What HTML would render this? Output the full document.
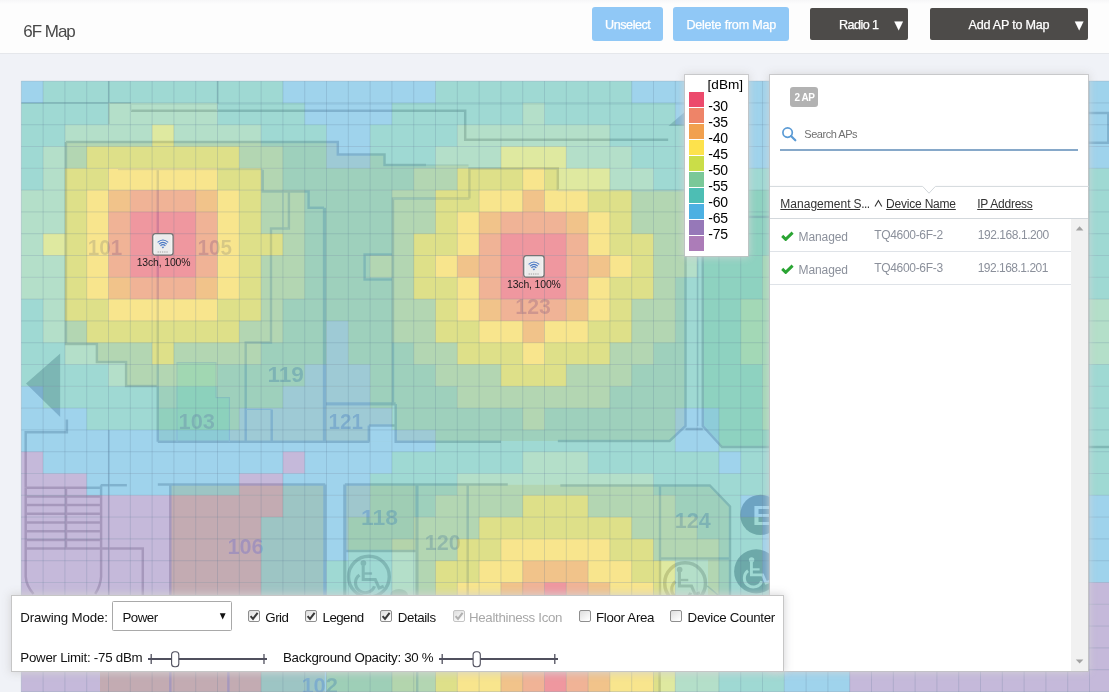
<!DOCTYPE html>
<html lang="en">
<head>
<meta charset="utf-8">
<title>6F Map</title>
<style>
*{box-sizing:border-box;}
html,body{margin:0;padding:0;}
body{width:1109px;height:692px;overflow:hidden;background:#f0f2f7;font-family:"Liberation Sans",sans-serif;position:relative;color:#333;}
.a{position:absolute;display:block;}
.t{position:absolute;display:block;white-space:nowrap;}
#hdr{position:absolute;left:0;top:0;width:1109px;height:54px;background:linear-gradient(to bottom,#f7f7f8 0,#fdfdfd 4px);border-bottom:1px solid #e5e7eb;}
.btn{position:absolute;}
.btn.lb{background:#90c8f6;top:7.2px;height:33.4px;border-radius:3px;}
.btn.dk{background:#4d4b49;top:8px;height:31.5px;border-radius:2px;}
#map{position:absolute;left:0;top:0;width:1109px;height:692px;}
#legend{position:absolute;left:685.4px;top:74.5px;width:63px;height:181.1px;background:#fff;box-shadow:0 0 0 0.9px rgba(192,192,194,0.85),0 0 8px 1px rgba(212,212,214,0.9);}
#panel{position:absolute;left:769.6px;top:74.5px;width:318.7px;height:596.5px;background:#fff;box-shadow:0 0 0 0.9px rgba(192,192,194,0.85),0 0 8px 1px rgba(212,212,214,0.9);}
#tool{position:absolute;left:11.2px;top:595.2px;width:772.6px;height:76.4px;background:#fff;border:1px solid #c6c6c6;box-shadow:0 0 8px 1px rgba(212,212,214,0.9);}
</style>
</head>
<body>
<svg id="map" width="1109" height="692" viewBox="0 0 1109 692">
<defs><filter id="soft" color-interpolation-filters="sRGB" x="0" y="0" width="1109" height="692" filterUnits="userSpaceOnUse"><feGaussianBlur stdDeviation="0.45"/></filter></defs>
<g>
<rect x="21.3" y="81.1" width="22.1" height="22.1" fill="#9fd3ec"/>
<rect x="43.1" y="81.1" width="240.1" height="22.1" fill="#9fd9d3"/>
<rect x="282.9" y="81.1" width="152.9" height="22.1" fill="#9fd3ec"/>
<rect x="435.5" y="81.1" width="196.5" height="22.1" fill="#9fd9d3"/>
<rect x="631.7" y="81.1" width="479.9" height="22.1" fill="#9fd3ec"/>
<rect x="21.3" y="102.9" width="87.5" height="22.1" fill="#9fd9d3"/>
<rect x="108.5" y="102.9" width="109.3" height="22.1" fill="#b4dfc9"/>
<rect x="217.5" y="102.9" width="87.5" height="22.1" fill="#9fd9d3"/>
<rect x="304.7" y="102.9" width="87.5" height="22.1" fill="#9fd3ec"/>
<rect x="391.9" y="102.9" width="131.1" height="22.1" fill="#9fd9d3"/>
<rect x="522.7" y="102.9" width="22.1" height="22.1" fill="#b4dfc9"/>
<rect x="544.5" y="102.9" width="131.1" height="22.1" fill="#9fd9d3"/>
<rect x="675.3" y="102.9" width="436.3" height="22.1" fill="#9fd3ec"/>
<rect x="21.3" y="124.7" width="43.9" height="22.1" fill="#9fd9d3"/>
<rect x="64.9" y="124.7" width="87.5" height="22.1" fill="#b4dfc9"/>
<rect x="152.1" y="124.7" width="22.1" height="22.1" fill="#dfe9a0"/>
<rect x="173.9" y="124.7" width="87.5" height="22.1" fill="#b4dfc9"/>
<rect x="261.1" y="124.7" width="65.7" height="22.1" fill="#9fd9d3"/>
<rect x="326.5" y="124.7" width="43.9" height="22.1" fill="#9fd3ec"/>
<rect x="370.1" y="124.7" width="87.5" height="22.1" fill="#9fd9d3"/>
<rect x="457.3" y="124.7" width="152.9" height="22.1" fill="#b4dfc9"/>
<rect x="609.9" y="124.7" width="109.3" height="22.1" fill="#9fd9d3"/>
<rect x="718.9" y="124.7" width="392.7" height="22.1" fill="#9fd3ec"/>
<rect x="21.3" y="146.5" width="22.1" height="22.1" fill="#9fd9d3"/>
<rect x="43.1" y="146.5" width="43.9" height="22.1" fill="#b4dfc9"/>
<rect x="86.7" y="146.5" width="152.9" height="22.1" fill="#dfe9a0"/>
<rect x="239.3" y="146.5" width="43.9" height="22.1" fill="#b4dfc9"/>
<rect x="282.9" y="146.5" width="43.9" height="22.1" fill="#9fd9d3"/>
<rect x="326.5" y="146.5" width="43.9" height="22.1" fill="#9fd3ec"/>
<rect x="370.1" y="146.5" width="65.7" height="22.1" fill="#9fd9d3"/>
<rect x="435.5" y="146.5" width="65.7" height="22.1" fill="#b4dfc9"/>
<rect x="500.9" y="146.5" width="65.7" height="22.1" fill="#dfe9a0"/>
<rect x="566.3" y="146.5" width="65.7" height="22.1" fill="#b4dfc9"/>
<rect x="631.7" y="146.5" width="109.3" height="22.1" fill="#9fd9d3"/>
<rect x="740.7" y="146.5" width="370.9" height="22.1" fill="#9fd3ec"/>
<rect x="21.3" y="168.3" width="22.1" height="22.1" fill="#9fd9d3"/>
<rect x="43.1" y="168.3" width="22.1" height="22.1" fill="#b4dfc9"/>
<rect x="64.9" y="168.3" width="43.9" height="22.1" fill="#dfe9a0"/>
<rect x="108.5" y="168.3" width="109.3" height="22.1" fill="#f9eea4"/>
<rect x="217.5" y="168.3" width="43.9" height="22.1" fill="#dfe9a0"/>
<rect x="261.1" y="168.3" width="22.1" height="22.1" fill="#b4dfc9"/>
<rect x="282.9" y="168.3" width="131.1" height="22.1" fill="#9fd9d3"/>
<rect x="413.7" y="168.3" width="43.9" height="22.1" fill="#b4dfc9"/>
<rect x="457.3" y="168.3" width="65.7" height="22.1" fill="#dfe9a0"/>
<rect x="522.7" y="168.3" width="22.1" height="22.1" fill="#f9eea4"/>
<rect x="544.5" y="168.3" width="65.7" height="22.1" fill="#dfe9a0"/>
<rect x="609.9" y="168.3" width="43.9" height="22.1" fill="#b4dfc9"/>
<rect x="653.5" y="168.3" width="458.1" height="22.1" fill="#9fd9d3"/>
<rect x="21.3" y="190.1" width="43.9" height="22.1" fill="#b4dfc9"/>
<rect x="64.9" y="190.1" width="22.1" height="22.1" fill="#dfe9a0"/>
<rect x="86.7" y="190.1" width="22.1" height="22.1" fill="#f9eea4"/>
<rect x="108.5" y="190.1" width="22.1" height="22.1" fill="#f2cca1"/>
<rect x="130.3" y="190.1" width="65.7" height="22.1" fill="#f1bcad"/>
<rect x="195.7" y="190.1" width="22.1" height="22.1" fill="#f2cca1"/>
<rect x="217.5" y="190.1" width="22.1" height="22.1" fill="#f9eea4"/>
<rect x="239.3" y="190.1" width="22.1" height="22.1" fill="#dfe9a0"/>
<rect x="261.1" y="190.1" width="43.9" height="22.1" fill="#b4dfc9"/>
<rect x="304.7" y="190.1" width="87.5" height="22.1" fill="#9fd9d3"/>
<rect x="391.9" y="190.1" width="43.9" height="22.1" fill="#b4dfc9"/>
<rect x="435.5" y="190.1" width="43.9" height="22.1" fill="#dfe9a0"/>
<rect x="479.1" y="190.1" width="43.9" height="22.1" fill="#f9eea4"/>
<rect x="522.7" y="190.1" width="22.1" height="22.1" fill="#f2cca1"/>
<rect x="544.5" y="190.1" width="43.9" height="22.1" fill="#f9eea4"/>
<rect x="588.1" y="190.1" width="43.9" height="22.1" fill="#dfe9a0"/>
<rect x="631.7" y="190.1" width="65.7" height="22.1" fill="#b4dfc9"/>
<rect x="697.1" y="190.1" width="414.5" height="22.1" fill="#9fd9d3"/>
<rect x="21.3" y="211.9" width="43.9" height="22.1" fill="#b4dfc9"/>
<rect x="64.9" y="211.9" width="22.1" height="22.1" fill="#dfe9a0"/>
<rect x="86.7" y="211.9" width="22.1" height="22.1" fill="#f9eea4"/>
<rect x="108.5" y="211.9" width="22.1" height="22.1" fill="#f1bcad"/>
<rect x="130.3" y="211.9" width="65.7" height="22.1" fill="#f0a0b6"/>
<rect x="195.7" y="211.9" width="22.1" height="22.1" fill="#f1bcad"/>
<rect x="217.5" y="211.9" width="22.1" height="22.1" fill="#f9eea4"/>
<rect x="239.3" y="211.9" width="22.1" height="22.1" fill="#dfe9a0"/>
<rect x="261.1" y="211.9" width="43.9" height="22.1" fill="#b4dfc9"/>
<rect x="304.7" y="211.9" width="87.5" height="22.1" fill="#9fd9d3"/>
<rect x="391.9" y="211.9" width="43.9" height="22.1" fill="#b4dfc9"/>
<rect x="435.5" y="211.9" width="22.1" height="22.1" fill="#dfe9a0"/>
<rect x="457.3" y="211.9" width="22.1" height="22.1" fill="#f9eea4"/>
<rect x="479.1" y="211.9" width="22.1" height="22.1" fill="#f2cca1"/>
<rect x="500.9" y="211.9" width="65.7" height="22.1" fill="#f1bcad"/>
<rect x="566.3" y="211.9" width="22.1" height="22.1" fill="#f2cca1"/>
<rect x="588.1" y="211.9" width="22.1" height="22.1" fill="#f9eea4"/>
<rect x="609.9" y="211.9" width="22.1" height="22.1" fill="#dfe9a0"/>
<rect x="631.7" y="211.9" width="65.7" height="22.1" fill="#b4dfc9"/>
<rect x="697.1" y="211.9" width="414.5" height="22.1" fill="#9fd9d3"/>
<rect x="21.3" y="233.7" width="22.1" height="22.1" fill="#b4dfc9"/>
<rect x="43.1" y="233.7" width="43.9" height="22.1" fill="#dfe9a0"/>
<rect x="86.7" y="233.7" width="22.1" height="22.1" fill="#f9eea4"/>
<rect x="108.5" y="233.7" width="22.1" height="22.1" fill="#f1bcad"/>
<rect x="130.3" y="233.7" width="65.7" height="22.1" fill="#f0a0b6"/>
<rect x="195.7" y="233.7" width="22.1" height="22.1" fill="#f1bcad"/>
<rect x="217.5" y="233.7" width="22.1" height="22.1" fill="#f9eea4"/>
<rect x="239.3" y="233.7" width="43.9" height="22.1" fill="#dfe9a0"/>
<rect x="282.9" y="233.7" width="22.1" height="22.1" fill="#b4dfc9"/>
<rect x="304.7" y="233.7" width="87.5" height="22.1" fill="#9fd9d3"/>
<rect x="391.9" y="233.7" width="22.1" height="22.1" fill="#b4dfc9"/>
<rect x="413.7" y="233.7" width="43.9" height="22.1" fill="#dfe9a0"/>
<rect x="457.3" y="233.7" width="22.1" height="22.1" fill="#f9eea4"/>
<rect x="479.1" y="233.7" width="22.1" height="22.1" fill="#f1bcad"/>
<rect x="500.9" y="233.7" width="65.7" height="22.1" fill="#f0a0b6"/>
<rect x="566.3" y="233.7" width="22.1" height="22.1" fill="#f1bcad"/>
<rect x="588.1" y="233.7" width="22.1" height="22.1" fill="#f9eea4"/>
<rect x="609.9" y="233.7" width="43.9" height="22.1" fill="#dfe9a0"/>
<rect x="653.5" y="233.7" width="43.9" height="22.1" fill="#b4dfc9"/>
<rect x="697.1" y="233.7" width="414.5" height="22.1" fill="#9fd9d3"/>
<rect x="21.3" y="255.5" width="43.9" height="22.1" fill="#b4dfc9"/>
<rect x="64.9" y="255.5" width="22.1" height="22.1" fill="#dfe9a0"/>
<rect x="86.7" y="255.5" width="22.1" height="22.1" fill="#f9eea4"/>
<rect x="108.5" y="255.5" width="22.1" height="22.1" fill="#f1bcad"/>
<rect x="130.3" y="255.5" width="65.7" height="22.1" fill="#f0a0b6"/>
<rect x="195.7" y="255.5" width="22.1" height="22.1" fill="#f1bcad"/>
<rect x="217.5" y="255.5" width="22.1" height="22.1" fill="#f9eea4"/>
<rect x="239.3" y="255.5" width="22.1" height="22.1" fill="#dfe9a0"/>
<rect x="261.1" y="255.5" width="43.9" height="22.1" fill="#b4dfc9"/>
<rect x="304.7" y="255.5" width="65.7" height="22.1" fill="#9fd9d3"/>
<rect x="370.1" y="255.5" width="43.9" height="22.1" fill="#b4dfc9"/>
<rect x="413.7" y="255.5" width="22.1" height="22.1" fill="#dfe9a0"/>
<rect x="435.5" y="255.5" width="22.1" height="22.1" fill="#f9eea4"/>
<rect x="457.3" y="255.5" width="22.1" height="22.1" fill="#f2cca1"/>
<rect x="479.1" y="255.5" width="22.1" height="22.1" fill="#f1bcad"/>
<rect x="500.9" y="255.5" width="65.7" height="22.1" fill="#f0a0b6"/>
<rect x="566.3" y="255.5" width="22.1" height="22.1" fill="#f1bcad"/>
<rect x="588.1" y="255.5" width="22.1" height="22.1" fill="#f2cca1"/>
<rect x="609.9" y="255.5" width="22.1" height="22.1" fill="#f9eea4"/>
<rect x="631.7" y="255.5" width="22.1" height="22.1" fill="#dfe9a0"/>
<rect x="653.5" y="255.5" width="43.9" height="22.1" fill="#b4dfc9"/>
<rect x="697.1" y="255.5" width="65.7" height="22.1" fill="#9fd9d3"/>
<rect x="762.5" y="255.5" width="109.3" height="22.1" fill="#b4dfc9"/>
<rect x="871.5" y="255.5" width="240.1" height="22.1" fill="#9fd9d3"/>
<rect x="21.3" y="277.3" width="43.9" height="22.1" fill="#b4dfc9"/>
<rect x="64.9" y="277.3" width="22.1" height="22.1" fill="#dfe9a0"/>
<rect x="86.7" y="277.3" width="22.1" height="22.1" fill="#f9eea4"/>
<rect x="108.5" y="277.3" width="22.1" height="22.1" fill="#f2cca1"/>
<rect x="130.3" y="277.3" width="65.7" height="22.1" fill="#f1bcad"/>
<rect x="195.7" y="277.3" width="22.1" height="22.1" fill="#f2cca1"/>
<rect x="217.5" y="277.3" width="22.1" height="22.1" fill="#f9eea4"/>
<rect x="239.3" y="277.3" width="22.1" height="22.1" fill="#dfe9a0"/>
<rect x="261.1" y="277.3" width="43.9" height="22.1" fill="#b4dfc9"/>
<rect x="304.7" y="277.3" width="87.5" height="22.1" fill="#9fd9d3"/>
<rect x="391.9" y="277.3" width="22.1" height="22.1" fill="#b4dfc9"/>
<rect x="413.7" y="277.3" width="43.9" height="22.1" fill="#dfe9a0"/>
<rect x="457.3" y="277.3" width="22.1" height="22.1" fill="#f9eea4"/>
<rect x="479.1" y="277.3" width="22.1" height="22.1" fill="#f1bcad"/>
<rect x="500.9" y="277.3" width="65.7" height="22.1" fill="#f0a0b6"/>
<rect x="566.3" y="277.3" width="22.1" height="22.1" fill="#f1bcad"/>
<rect x="588.1" y="277.3" width="22.1" height="22.1" fill="#f9eea4"/>
<rect x="609.9" y="277.3" width="43.9" height="22.1" fill="#dfe9a0"/>
<rect x="653.5" y="277.3" width="22.1" height="22.1" fill="#b4dfc9"/>
<rect x="675.3" y="277.3" width="87.5" height="22.1" fill="#9fd9d3"/>
<rect x="762.5" y="277.3" width="109.3" height="22.1" fill="#b4dfc9"/>
<rect x="871.5" y="277.3" width="240.1" height="22.1" fill="#9fd9d3"/>
<rect x="21.3" y="299.1" width="22.1" height="22.1" fill="#9fd9d3"/>
<rect x="43.1" y="299.1" width="22.1" height="22.1" fill="#b4dfc9"/>
<rect x="64.9" y="299.1" width="43.9" height="22.1" fill="#dfe9a0"/>
<rect x="108.5" y="299.1" width="109.3" height="22.1" fill="#f9eea4"/>
<rect x="217.5" y="299.1" width="43.9" height="22.1" fill="#dfe9a0"/>
<rect x="261.1" y="299.1" width="22.1" height="22.1" fill="#b4dfc9"/>
<rect x="282.9" y="299.1" width="109.3" height="22.1" fill="#9fd9d3"/>
<rect x="391.9" y="299.1" width="43.9" height="22.1" fill="#b4dfc9"/>
<rect x="435.5" y="299.1" width="22.1" height="22.1" fill="#dfe9a0"/>
<rect x="457.3" y="299.1" width="22.1" height="22.1" fill="#f9eea4"/>
<rect x="479.1" y="299.1" width="22.1" height="22.1" fill="#f2cca1"/>
<rect x="500.9" y="299.1" width="65.7" height="22.1" fill="#f1bcad"/>
<rect x="566.3" y="299.1" width="22.1" height="22.1" fill="#f2cca1"/>
<rect x="588.1" y="299.1" width="22.1" height="22.1" fill="#f9eea4"/>
<rect x="609.9" y="299.1" width="22.1" height="22.1" fill="#dfe9a0"/>
<rect x="631.7" y="299.1" width="43.9" height="22.1" fill="#b4dfc9"/>
<rect x="675.3" y="299.1" width="65.7" height="22.1" fill="#9fd9d3"/>
<rect x="740.7" y="299.1" width="370.9" height="22.1" fill="#b4dfc9"/>
<rect x="21.3" y="320.9" width="22.1" height="22.1" fill="#9fd9d3"/>
<rect x="43.1" y="320.9" width="43.9" height="22.1" fill="#b4dfc9"/>
<rect x="86.7" y="320.9" width="152.9" height="22.1" fill="#dfe9a0"/>
<rect x="239.3" y="320.9" width="43.9" height="22.1" fill="#b4dfc9"/>
<rect x="282.9" y="320.9" width="43.9" height="22.1" fill="#9fd9d3"/>
<rect x="326.5" y="320.9" width="22.1" height="22.1" fill="#9fd3ec"/>
<rect x="348.3" y="320.9" width="43.9" height="22.1" fill="#9fd9d3"/>
<rect x="391.9" y="320.9" width="43.9" height="22.1" fill="#b4dfc9"/>
<rect x="435.5" y="320.9" width="43.9" height="22.1" fill="#dfe9a0"/>
<rect x="479.1" y="320.9" width="43.9" height="22.1" fill="#f9eea4"/>
<rect x="522.7" y="320.9" width="22.1" height="22.1" fill="#f2cca1"/>
<rect x="544.5" y="320.9" width="43.9" height="22.1" fill="#f9eea4"/>
<rect x="588.1" y="320.9" width="43.9" height="22.1" fill="#dfe9a0"/>
<rect x="631.7" y="320.9" width="43.9" height="22.1" fill="#b4dfc9"/>
<rect x="675.3" y="320.9" width="65.7" height="22.1" fill="#9fd9d3"/>
<rect x="740.7" y="320.9" width="370.9" height="22.1" fill="#b4dfc9"/>
<rect x="21.3" y="342.7" width="43.9" height="22.1" fill="#9fd9d3"/>
<rect x="64.9" y="342.7" width="87.5" height="22.1" fill="#b4dfc9"/>
<rect x="152.1" y="342.7" width="22.1" height="22.1" fill="#dfe9a0"/>
<rect x="173.9" y="342.7" width="87.5" height="22.1" fill="#b4dfc9"/>
<rect x="261.1" y="342.7" width="65.7" height="22.1" fill="#9fd9d3"/>
<rect x="326.5" y="342.7" width="22.1" height="22.1" fill="#9fd3ec"/>
<rect x="348.3" y="342.7" width="65.7" height="22.1" fill="#9fd9d3"/>
<rect x="413.7" y="342.7" width="43.9" height="22.1" fill="#b4dfc9"/>
<rect x="457.3" y="342.7" width="65.7" height="22.1" fill="#dfe9a0"/>
<rect x="522.7" y="342.7" width="22.1" height="22.1" fill="#f9eea4"/>
<rect x="544.5" y="342.7" width="65.7" height="22.1" fill="#dfe9a0"/>
<rect x="609.9" y="342.7" width="43.9" height="22.1" fill="#b4dfc9"/>
<rect x="653.5" y="342.7" width="87.5" height="22.1" fill="#9fd9d3"/>
<rect x="740.7" y="342.7" width="370.9" height="22.1" fill="#b4dfc9"/>
<rect x="21.3" y="364.5" width="87.5" height="22.1" fill="#9fd9d3"/>
<rect x="108.5" y="364.5" width="109.3" height="22.1" fill="#b4dfc9"/>
<rect x="217.5" y="364.5" width="87.5" height="22.1" fill="#9fd9d3"/>
<rect x="304.7" y="364.5" width="65.7" height="22.1" fill="#9fd3ec"/>
<rect x="370.1" y="364.5" width="65.7" height="22.1" fill="#9fd9d3"/>
<rect x="435.5" y="364.5" width="65.7" height="22.1" fill="#b4dfc9"/>
<rect x="500.9" y="364.5" width="65.7" height="22.1" fill="#dfe9a0"/>
<rect x="566.3" y="364.5" width="65.7" height="22.1" fill="#b4dfc9"/>
<rect x="631.7" y="364.5" width="131.1" height="22.1" fill="#9fd9d3"/>
<rect x="762.5" y="364.5" width="109.3" height="22.1" fill="#b4dfc9"/>
<rect x="871.5" y="364.5" width="240.1" height="22.1" fill="#9fd9d3"/>
<rect x="21.3" y="386.3" width="22.1" height="22.1" fill="#9fd3ec"/>
<rect x="43.1" y="386.3" width="240.1" height="22.1" fill="#9fd9d3"/>
<rect x="282.9" y="386.3" width="87.5" height="22.1" fill="#9fd3ec"/>
<rect x="370.1" y="386.3" width="87.5" height="22.1" fill="#9fd9d3"/>
<rect x="457.3" y="386.3" width="152.9" height="22.1" fill="#b4dfc9"/>
<rect x="609.9" y="386.3" width="152.9" height="22.1" fill="#9fd9d3"/>
<rect x="762.5" y="386.3" width="109.3" height="22.1" fill="#b4dfc9"/>
<rect x="871.5" y="386.3" width="240.1" height="22.1" fill="#9fd9d3"/>
<rect x="21.3" y="408.1" width="65.7" height="22.1" fill="#9fd3ec"/>
<rect x="86.7" y="408.1" width="152.9" height="22.1" fill="#9fd9d3"/>
<rect x="239.3" y="408.1" width="152.9" height="22.1" fill="#9fd3ec"/>
<rect x="391.9" y="408.1" width="131.1" height="22.1" fill="#9fd9d3"/>
<rect x="522.7" y="408.1" width="22.1" height="22.1" fill="#b4dfc9"/>
<rect x="544.5" y="408.1" width="131.1" height="22.1" fill="#9fd9d3"/>
<rect x="675.3" y="408.1" width="43.9" height="22.1" fill="#9fd3ec"/>
<rect x="718.9" y="408.1" width="43.9" height="22.1" fill="#9fd9d3"/>
<rect x="762.5" y="408.1" width="109.3" height="22.1" fill="#b4dfc9"/>
<rect x="871.5" y="408.1" width="240.1" height="22.1" fill="#9fd9d3"/>
<rect x="21.3" y="429.9" width="414.5" height="22.1" fill="#9fd3ec"/>
<rect x="435.5" y="429.9" width="240.1" height="22.1" fill="#9fd9d3"/>
<rect x="675.3" y="429.9" width="43.9" height="22.1" fill="#9fd3ec"/>
<rect x="718.9" y="429.9" width="392.7" height="22.1" fill="#9fd9d3"/>
<rect x="21.3" y="451.7" width="22.1" height="22.1" fill="#c5b9da"/>
<rect x="43.1" y="451.7" width="240.1" height="22.1" fill="#9fd3ec"/>
<rect x="282.9" y="451.7" width="22.1" height="22.1" fill="#c5b9da"/>
<rect x="304.7" y="451.7" width="87.5" height="22.1" fill="#9fd3ec"/>
<rect x="391.9" y="451.7" width="131.1" height="22.1" fill="#9fd9d3"/>
<rect x="522.7" y="451.7" width="65.7" height="22.1" fill="#b4dfc9"/>
<rect x="588.1" y="451.7" width="131.1" height="22.1" fill="#9fd9d3"/>
<rect x="718.9" y="451.7" width="22.1" height="22.1" fill="#9fd3ec"/>
<rect x="740.7" y="451.7" width="370.9" height="22.1" fill="#9fd9d3"/>
<rect x="21.3" y="473.5" width="65.7" height="22.1" fill="#c5b9da"/>
<rect x="86.7" y="473.5" width="152.9" height="22.1" fill="#9fd3ec"/>
<rect x="239.3" y="473.5" width="43.9" height="22.1" fill="#c5b9da"/>
<rect x="282.9" y="473.5" width="87.5" height="22.1" fill="#9fd3ec"/>
<rect x="370.1" y="473.5" width="87.5" height="22.1" fill="#9fd9d3"/>
<rect x="457.3" y="473.5" width="196.5" height="22.1" fill="#b4dfc9"/>
<rect x="653.5" y="473.5" width="458.1" height="22.1" fill="#9fd9d3"/>
<rect x="21.3" y="495.3" width="261.9" height="22.1" fill="#c5b9da"/>
<rect x="282.9" y="495.3" width="87.5" height="22.1" fill="#9fd3ec"/>
<rect x="370.1" y="495.3" width="65.7" height="22.1" fill="#9fd9d3"/>
<rect x="435.5" y="495.3" width="87.5" height="22.1" fill="#b4dfc9"/>
<rect x="522.7" y="495.3" width="65.7" height="22.1" fill="#dfe9a0"/>
<rect x="588.1" y="495.3" width="87.5" height="22.1" fill="#b4dfc9"/>
<rect x="675.3" y="495.3" width="65.7" height="22.1" fill="#9fd9d3"/>
<rect x="740.7" y="495.3" width="370.9" height="22.1" fill="#9fd3ec"/>
<rect x="21.3" y="517.1" width="240.1" height="22.1" fill="#c5b9da"/>
<rect x="261.1" y="517.1" width="87.5" height="22.1" fill="#9fd3ec"/>
<rect x="348.3" y="517.1" width="65.7" height="22.1" fill="#9fd9d3"/>
<rect x="413.7" y="517.1" width="65.7" height="22.1" fill="#b4dfc9"/>
<rect x="479.1" y="517.1" width="152.9" height="22.1" fill="#dfe9a0"/>
<rect x="631.7" y="517.1" width="65.7" height="22.1" fill="#b4dfc9"/>
<rect x="697.1" y="517.1" width="65.7" height="22.1" fill="#9fd9d3"/>
<rect x="762.5" y="517.1" width="349.1" height="22.1" fill="#9fd3ec"/>
<rect x="21.3" y="538.9" width="240.1" height="22.1" fill="#c5b9da"/>
<rect x="261.1" y="538.9" width="87.5" height="22.1" fill="#9fd3ec"/>
<rect x="348.3" y="538.9" width="43.9" height="22.1" fill="#9fd9d3"/>
<rect x="391.9" y="538.9" width="65.7" height="22.1" fill="#b4dfc9"/>
<rect x="457.3" y="538.9" width="43.9" height="22.1" fill="#dfe9a0"/>
<rect x="500.9" y="538.9" width="109.3" height="22.1" fill="#f9eea4"/>
<rect x="609.9" y="538.9" width="43.9" height="22.1" fill="#dfe9a0"/>
<rect x="653.5" y="538.9" width="65.7" height="22.1" fill="#b4dfc9"/>
<rect x="718.9" y="538.9" width="43.9" height="22.1" fill="#9fd9d3"/>
<rect x="762.5" y="538.9" width="349.1" height="22.1" fill="#9fd3ec"/>
<rect x="21.3" y="560.7" width="240.1" height="22.1" fill="#c5b9da"/>
<rect x="261.1" y="560.7" width="65.7" height="22.1" fill="#9fd3ec"/>
<rect x="326.5" y="560.7" width="65.7" height="22.1" fill="#9fd9d3"/>
<rect x="391.9" y="560.7" width="43.9" height="22.1" fill="#b4dfc9"/>
<rect x="435.5" y="560.7" width="43.9" height="22.1" fill="#dfe9a0"/>
<rect x="479.1" y="560.7" width="43.9" height="22.1" fill="#f9eea4"/>
<rect x="522.7" y="560.7" width="65.7" height="22.1" fill="#f2cca1"/>
<rect x="588.1" y="560.7" width="43.9" height="22.1" fill="#f9eea4"/>
<rect x="631.7" y="560.7" width="43.9" height="22.1" fill="#dfe9a0"/>
<rect x="675.3" y="560.7" width="43.9" height="22.1" fill="#b4dfc9"/>
<rect x="718.9" y="560.7" width="43.9" height="22.1" fill="#9fd9d3"/>
<rect x="762.5" y="560.7" width="349.1" height="22.1" fill="#9fd3ec"/>
<rect x="21.3" y="582.5" width="240.1" height="22.1" fill="#c5b9da"/>
<rect x="261.1" y="582.5" width="65.7" height="22.1" fill="#9fd3ec"/>
<rect x="326.5" y="582.5" width="65.7" height="22.1" fill="#9fd9d3"/>
<rect x="391.9" y="582.5" width="43.9" height="22.1" fill="#b4dfc9"/>
<rect x="435.5" y="582.5" width="22.1" height="22.1" fill="#dfe9a0"/>
<rect x="457.3" y="582.5" width="43.9" height="22.1" fill="#f9eea4"/>
<rect x="500.9" y="582.5" width="22.1" height="22.1" fill="#f2cca1"/>
<rect x="522.7" y="582.5" width="22.1" height="22.1" fill="#f1bcad"/>
<rect x="544.5" y="582.5" width="22.1" height="22.1" fill="#f0a0b6"/>
<rect x="566.3" y="582.5" width="22.1" height="22.1" fill="#f1bcad"/>
<rect x="588.1" y="582.5" width="22.1" height="22.1" fill="#f2cca1"/>
<rect x="609.9" y="582.5" width="43.9" height="22.1" fill="#f9eea4"/>
<rect x="653.5" y="582.5" width="22.1" height="22.1" fill="#dfe9a0"/>
<rect x="675.3" y="582.5" width="43.9" height="22.1" fill="#b4dfc9"/>
<rect x="718.9" y="582.5" width="65.7" height="22.1" fill="#9fd9d3"/>
<rect x="784.3" y="582.5" width="65.7" height="22.1" fill="#9fd3ec"/>
<rect x="849.7" y="582.5" width="261.9" height="22.1" fill="#c5b9da"/>
<rect x="21.3" y="604.3" width="240.1" height="22.1" fill="#c5b9da"/>
<rect x="261.1" y="604.3" width="65.7" height="22.1" fill="#9fd3ec"/>
<rect x="326.5" y="604.3" width="65.7" height="22.1" fill="#9fd9d3"/>
<rect x="391.9" y="604.3" width="22.1" height="22.1" fill="#b4dfc9"/>
<rect x="413.7" y="604.3" width="43.9" height="22.1" fill="#dfe9a0"/>
<rect x="457.3" y="604.3" width="22.1" height="22.1" fill="#f9eea4"/>
<rect x="479.1" y="604.3" width="22.1" height="22.1" fill="#f2cca1"/>
<rect x="500.9" y="604.3" width="22.1" height="22.1" fill="#f1bcad"/>
<rect x="522.7" y="604.3" width="65.7" height="22.1" fill="#f0a0b6"/>
<rect x="588.1" y="604.3" width="22.1" height="22.1" fill="#f1bcad"/>
<rect x="609.9" y="604.3" width="22.1" height="22.1" fill="#f2cca1"/>
<rect x="631.7" y="604.3" width="22.1" height="22.1" fill="#f9eea4"/>
<rect x="653.5" y="604.3" width="22.1" height="22.1" fill="#dfe9a0"/>
<rect x="675.3" y="604.3" width="43.9" height="22.1" fill="#b4dfc9"/>
<rect x="718.9" y="604.3" width="65.7" height="22.1" fill="#9fd9d3"/>
<rect x="784.3" y="604.3" width="65.7" height="22.1" fill="#9fd3ec"/>
<rect x="849.7" y="604.3" width="261.9" height="22.1" fill="#c5b9da"/>
<rect x="21.3" y="626.1" width="240.1" height="22.1" fill="#c5b9da"/>
<rect x="261.1" y="626.1" width="65.7" height="22.1" fill="#9fd3ec"/>
<rect x="326.5" y="626.1" width="65.7" height="22.1" fill="#9fd9d3"/>
<rect x="391.9" y="626.1" width="22.1" height="22.1" fill="#b4dfc9"/>
<rect x="413.7" y="626.1" width="22.1" height="22.1" fill="#dfe9a0"/>
<rect x="435.5" y="626.1" width="43.9" height="22.1" fill="#f9eea4"/>
<rect x="479.1" y="626.1" width="22.1" height="22.1" fill="#f2cca1"/>
<rect x="500.9" y="626.1" width="22.1" height="22.1" fill="#f1bcad"/>
<rect x="522.7" y="626.1" width="65.7" height="22.1" fill="#f0a0b6"/>
<rect x="588.1" y="626.1" width="22.1" height="22.1" fill="#f1bcad"/>
<rect x="609.9" y="626.1" width="22.1" height="22.1" fill="#f2cca1"/>
<rect x="631.7" y="626.1" width="43.9" height="22.1" fill="#f9eea4"/>
<rect x="675.3" y="626.1" width="22.1" height="22.1" fill="#dfe9a0"/>
<rect x="697.1" y="626.1" width="43.9" height="22.1" fill="#b4dfc9"/>
<rect x="740.7" y="626.1" width="43.9" height="22.1" fill="#9fd9d3"/>
<rect x="784.3" y="626.1" width="65.7" height="22.1" fill="#9fd3ec"/>
<rect x="849.7" y="626.1" width="261.9" height="22.1" fill="#c5b9da"/>
<rect x="21.3" y="647.9" width="240.1" height="22.1" fill="#c5b9da"/>
<rect x="261.1" y="647.9" width="65.7" height="22.1" fill="#9fd3ec"/>
<rect x="326.5" y="647.9" width="65.7" height="22.1" fill="#9fd9d3"/>
<rect x="391.9" y="647.9" width="22.1" height="22.1" fill="#b4dfc9"/>
<rect x="413.7" y="647.9" width="43.9" height="22.1" fill="#dfe9a0"/>
<rect x="457.3" y="647.9" width="22.1" height="22.1" fill="#f9eea4"/>
<rect x="479.1" y="647.9" width="22.1" height="22.1" fill="#f2cca1"/>
<rect x="500.9" y="647.9" width="22.1" height="22.1" fill="#f1bcad"/>
<rect x="522.7" y="647.9" width="65.7" height="22.1" fill="#f0a0b6"/>
<rect x="588.1" y="647.9" width="22.1" height="22.1" fill="#f1bcad"/>
<rect x="609.9" y="647.9" width="22.1" height="22.1" fill="#f2cca1"/>
<rect x="631.7" y="647.9" width="22.1" height="22.1" fill="#f9eea4"/>
<rect x="653.5" y="647.9" width="22.1" height="22.1" fill="#dfe9a0"/>
<rect x="675.3" y="647.9" width="43.9" height="22.1" fill="#b4dfc9"/>
<rect x="718.9" y="647.9" width="65.7" height="22.1" fill="#9fd9d3"/>
<rect x="784.3" y="647.9" width="65.7" height="22.1" fill="#9fd3ec"/>
<rect x="849.7" y="647.9" width="261.9" height="22.1" fill="#c5b9da"/>
<rect x="21.3" y="669.7" width="240.1" height="22.1" fill="#c5b9da"/>
<rect x="261.1" y="669.7" width="65.7" height="22.1" fill="#9fd3ec"/>
<rect x="326.5" y="669.7" width="65.7" height="22.1" fill="#9fd9d3"/>
<rect x="391.9" y="669.7" width="43.9" height="22.1" fill="#b4dfc9"/>
<rect x="435.5" y="669.7" width="22.1" height="22.1" fill="#dfe9a0"/>
<rect x="457.3" y="669.7" width="43.9" height="22.1" fill="#f9eea4"/>
<rect x="500.9" y="669.7" width="22.1" height="22.1" fill="#f2cca1"/>
<rect x="522.7" y="669.7" width="22.1" height="22.1" fill="#f1bcad"/>
<rect x="544.5" y="669.7" width="22.1" height="22.1" fill="#f0a0b6"/>
<rect x="566.3" y="669.7" width="22.1" height="22.1" fill="#f1bcad"/>
<rect x="588.1" y="669.7" width="22.1" height="22.1" fill="#f2cca1"/>
<rect x="609.9" y="669.7" width="43.9" height="22.1" fill="#f9eea4"/>
<rect x="653.5" y="669.7" width="22.1" height="22.1" fill="#dfe9a0"/>
<rect x="675.3" y="669.7" width="43.9" height="22.1" fill="#b4dfc9"/>
<rect x="718.9" y="669.7" width="65.7" height="22.1" fill="#9fd9d3"/>
<rect x="784.3" y="669.7" width="65.7" height="22.1" fill="#9fd3ec"/>
<rect x="849.7" y="669.7" width="261.9" height="22.1" fill="#c5b9da"/>
</g>
<g style="mix-blend-mode:difference" filter="url(#soft)">
<!-- interior tints -->
<g id="tints">
<path fill="rgb(1,9,23)" d="M66,142H337.8V154.4H384.5V164.9H468.6V168.6H557.8V190.6H685.3V426L669.6,441H395.7V404H392.5V441.8H157.8V386.1H126.1V361.9H96.9V343.9H66Z"/>
<!-- corridor col16 untinted handled by path above (gap 369.5..395.7 below 404) -->
<path fill="rgb(0,0,0)" d="M369.5,426H395.7V441.8H369.5Z"/>
<!-- room 103 green -->
<path fill="rgb(19,8,23)" d="M177,362.7H216V397.7H229.4V441.8H177Z"/>
<path fill="rgb(14,9,22)" d="M157.8,408.1H177V441.8H157.8Z"/>
<!-- right green zone -->
<path fill="rgb(17,7,19)" d="M702.8,190V426L722,447H1080V190Z"/>
<!-- room 106 orange -->
<path fill="rgb(2,14,40)" d="M170.3,484.7H324.8V692H100V600H170.3Z"/>
<!-- room 118 -->
<path fill="rgb(0,12,31)" d="M344.8,484.7H417.4V550.9H344.8Z"/>
<!-- room 120 and AP3 room -->
<path fill="rgb(1,9,23)" d="M417.4,484.7H660V692H417.4Z"/>
<!-- room 124 -->
<path fill="rgb(1,9,23)" d="M660,485.5H709.8L730,506.5V600H708V558.6H660Z"/>
<!-- bottom strip -->
<path fill="rgb(1,10,28)" d="M326,671H417.4V692H326Z"/>
</g>
<!-- walls -->
<g fill="none" stroke="rgb(31,33,30)" stroke-width="2.5" stroke-linejoin="miter">
<path d="M66,142H337.8V154.4H384.5V164.9H426"/>
<path d="M469.4,198.6V168.6H557.8V190.6"/>
<path d="M557.8,190.6H685.5" stroke="rgb(14,15,13)"/>
<path d="M469.4,198.6H393V404"/>
<path d="M66,142V343.9H96.9V361.9H126.1V386.1H157.8"/>
<path d="M157.8,169.7V441.8"/>
<path d="M131,110.7H465.2V139.7H668.2"/>
<path d="M262.7,169.7V191.4H308.6V207.7H324.1"/>
<path d="M288.9,191.4V228.5H271V342.5H245.7V441.8"/>
<path d="M392.5,254.4H364.6V279.6H392.5"/>
<path d="M157.8,441.8H369.5"/>
<path d="M271.7,409.4V441.8M368.8,425.5V441.8M368.8,425.5H395"/>
<path d="M395.7,404V441.8H501"/>
<path d="M557.8,441H669.6L685.5,426V190.6"/>
<path d="M702.8,190V426L722,447H1109"/>
<path d="M748,216.9H770"/>
<path d="M685.5,429H702.8"/>
<path d="M25.7,487.7V432.3H66.9V419.4"/>
<path d="M157.8,484.6H325.3M344.8,484.6H507.8M560.3,485.5H709.8L730,506.5V600"/>
<path d="M170.3,484.6V692"/>
<path d="M467.7,484.6V600"/>
<path d="M660,485.5V600M660,558.6H729.4"/>
<path d="M344.8,550.9H417.4"/>
<path d="M228.4,671V692M417.2,671V692M659.6,671V692"/>
<path d="M1088,113H1109M1088,142.8H1109M1108.3,113V142.8"/>
</g>
<g fill="none" stroke="rgb(31,33,30)" stroke-width="3.2">
<path d="M324.4,207.7V441.8M324.4,403.8H395.7"/>
<path d="M324.8,484.6V600M344.8,484.6V600M417,484.6V600"/>
</g>
<g fill="none" stroke="rgb(26,26,22)" stroke-width="1.2">
<path d="M131,104.2H700M131,104.2V110.7M217.3,104.2V110.7" stroke="rgb(12,13,11)"/>
<path d="M118,169.7H262.7"/>
<path d="M283,191.4V229H288.9"/>
<path d="M177,441.8V362.7H216V397.7H229.4V441.8"/>
<path d="M246,409.4H271.7"/>
<path d="M697.8,190V426"/>
<path d="M426,165H468.6M393,198.6H469"/>

</g>
<path d="M108.9,81V124M108.9,430V600M217.7,81V104M21.3,102.9H131" fill="none" stroke="rgb(20,22,19)" stroke-width="2"/>
<!-- stairs -->
<g fill="none" stroke="rgb(31,33,30)" stroke-width="2.5">
<path d="M25.7,487.7H101.1M25.7,496.4H101.1M25.7,505.1H101.1M25.7,513.8H101.1M25.7,522.5H101.1M25.7,531.2H101.1M25.7,539.9H101.1M25.7,548.6H142.8V600"/>
<path d="M66,487.7V548.6"/>
<path d="M101.1,485.2V576.7Q100.5,586 95.2,594M25.7,487.7V576.7Q26.3,586 33.5,594"/>
<path d="M100.7,485.2H126.9"/>
</g>
<!-- arrows -->
<path fill="rgb(35,35,31)" d="M26,383.6L60.2,353.5V416.9Z"/>
<path fill="rgb(30,30,26)" d="M668.4,126.1L700,98.8L731.6,126.1Z"/>
<!-- room labels -->
<g font-family="'Liberation Sans',sans-serif" font-weight="bold" font-size="22px" fill="rgb(34,38,31)">
<text x="87.7" y="254.6" textLength="34.5" lengthAdjust="spacingAndGlyphs">101</text>
<text x="197.6" y="254.6" textLength="34.5" lengthAdjust="spacingAndGlyphs">105</text>
<text x="267.4" y="382" textLength="36.5" lengthAdjust="spacingAndGlyphs">119</text>
<text x="178.5" y="428.8" textLength="36.5" lengthAdjust="spacingAndGlyphs">103</text>
<text x="328.6" y="428.6" textLength="34.5" lengthAdjust="spacingAndGlyphs">121</text>
<text x="515.3" y="313.8" textLength="35.5" lengthAdjust="spacingAndGlyphs">123</text>
<text x="227.4" y="553.6" textLength="36.3" lengthAdjust="spacingAndGlyphs">106</text>
<text x="360.9" y="524.6" textLength="37" lengthAdjust="spacingAndGlyphs">118</text>
<text x="424.8" y="550.2" textLength="36" lengthAdjust="spacingAndGlyphs">120</text>
<text x="674.8" y="528.4" textLength="36" lengthAdjust="spacingAndGlyphs">124</text>
<text x="301.4" y="693" textLength="36.5" lengthAdjust="spacingAndGlyphs">102</text>
</g>
<!-- wheelchair outline icons -->
<g transform="translate(368.9,576.7)"><circle cx="0" cy="0" r="20.4" fill="none" stroke="rgb(31,33,30)" stroke-width="3.5"/><g fill="none" stroke-linecap="butt"><circle cx="-5.5" cy="-13.6" r="2.9" stroke="none" fill="rgb(31,33,30)"/><path d="M-5.7,-11.5V2.8H6.4L10.2,11.4L14.8,9.6" stroke="rgb(31,33,30)" stroke-width="3.1" stroke-linejoin="miter"/><path d="M-5.7,-3.2H3.2" stroke="rgb(31,33,30)" stroke-width="2.4"/><path d="M-9.4,-1.7A9.8,9.8 0 1 0 5.6,9.6" stroke="rgb(31,33,30)" stroke-width="3.2"/></g></g>
<g transform="translate(685.1,583.2)"><circle cx="0" cy="0" r="20.4" fill="none" stroke="rgb(31,33,30)" stroke-width="3.5"/><g fill="none" stroke-linecap="butt"><circle cx="-5.5" cy="-13.6" r="2.9" stroke="none" fill="rgb(31,33,30)"/><path d="M-5.7,-11.5V2.8H6.4L10.2,11.4L14.8,9.6" stroke="rgb(31,33,30)" stroke-width="3.1" stroke-linejoin="miter"/><path d="M-5.7,-3.2H3.2" stroke="rgb(31,33,30)" stroke-width="2.4"/><path d="M-9.4,-1.7A9.8,9.8 0 1 0 5.6,9.6" stroke="rgb(31,33,30)" stroke-width="3.2"/></g></g>
<ellipse cx="399" cy="595" rx="9" ry="6" fill="rgb(22,24,21)"/>
<path d="M707.2,585.8L718,595" stroke="rgb(31,33,30)" stroke-width="1.6" fill="none"/>
<!-- filled icons -->
<circle cx="760.4" cy="514.9" r="20.2" fill="rgb(50,48,42)"/>
<text x="752.6" y="524.8" font-family="'Liberation Sans',sans-serif" font-weight="bold" font-size="28.5px" fill="rgb(0,0,0)">E</text>
<g transform="translate(756.2,571.4)"><circle cx="0" cy="0" r="22.1" fill="rgb(50,48,42)"/><g transform="scale(0.92) translate(0.5,1)"><g fill="none" stroke-linecap="butt"><circle cx="-5.5" cy="-13.6" r="2.9" stroke="none" fill="rgb(0,0,0)"/><path d="M-5.7,-11.5V2.8H6.4L10.2,11.4L14.8,9.6" stroke="rgb(0,0,0)" stroke-width="3.1" stroke-linejoin="miter"/><path d="M-5.7,-3.2H3.2" stroke="rgb(0,0,0)" stroke-width="2.4"/><path d="M-9.4,-1.7A9.8,9.8 0 1 0 5.6,9.6" stroke="rgb(0,0,0)" stroke-width="3.2"/></g></g></g>
</g>

<path d="M21.3 81.1V692M43.1 81.1V692M64.9 81.1V692M86.7 81.1V692M108.5 81.1V692M130.3 81.1V692M152.1 81.1V692M173.9 81.1V692M195.7 81.1V692M217.5 81.1V692M239.3 81.1V692M261.1 81.1V692M282.9 81.1V692M304.7 81.1V692M326.5 81.1V692M348.3 81.1V692M370.1 81.1V692M391.9 81.1V692M413.7 81.1V692M435.5 81.1V692M457.3 81.1V692M479.1 81.1V692M500.9 81.1V692M522.7 81.1V692M544.5 81.1V692M566.3 81.1V692M588.1 81.1V692M609.9 81.1V692M631.7 81.1V692M653.5 81.1V692M675.3 81.1V692M697.1 81.1V692M718.9 81.1V692M740.7 81.1V692M762.5 81.1V692M784.3 81.1V692M806.1 81.1V692M827.9 81.1V692M849.7 81.1V692M871.5 81.1V692M893.3 81.1V692M915.1 81.1V692M936.9 81.1V692M958.7 81.1V692M980.5 81.1V692M1002.3 81.1V692M1024.1 81.1V692M1045.9 81.1V692M1067.7 81.1V692M1089.5 81.1V692M1111.3 81.1V692M21.3 81.1H1109M21.3 102.9H1109M21.3 124.7H1109M21.3 146.5H1109M21.3 168.3H1109M21.3 190.1H1109M21.3 211.9H1109M21.3 233.7H1109M21.3 255.5H1109M21.3 277.3H1109M21.3 299.1H1109M21.3 320.9H1109M21.3 342.7H1109M21.3 364.5H1109M21.3 386.3H1109M21.3 408.1H1109M21.3 429.9H1109M21.3 451.7H1109M21.3 473.5H1109M21.3 495.3H1109M21.3 517.1H1109M21.3 538.9H1109M21.3 560.7H1109M21.3 582.5H1109M21.3 604.3H1109M21.3 626.1H1109M21.3 647.9H1109M21.3 669.7H1109M21.3 691.5H1109" stroke="rgba(90,118,145,0.21)" stroke-width="1" fill="none"/>
</svg>
<svg class="a" style="left:152.0px;top:232.9px" width="22" height="23" viewBox="0 0 22 23"><defs><linearGradient id="ag152" x1="0" y1="0" x2="1" y2="0"><stop offset="0" stop-color="#fdfdfd"/><stop offset="0.14" stop-color="#ececec"/><stop offset="0.86" stop-color="#ececec"/><stop offset="1" stop-color="#fdfdfd"/></linearGradient></defs><rect x="0.7" y="0.7" width="20.4" height="21.4" rx="2.6" fill="url(#ag152)" stroke="#747474" stroke-width="1.3"/><g fill="none" stroke="#4a78c4" stroke-width="1.15"><path d="M5.6 9.4Q10.9 4.6 16.2 9.4"/><path d="M7 11.1Q10.9 7.6 14.8 11.1"/><path d="M8.4 12.7Q10.9 10.6 13.4 12.7"/></g><path d="M9.5 13.7H12.3L10.9 15.6Z" fill="#4a78c4"/><path d="M5.6 19H16.4" stroke="#9a9a9a" stroke-width="0.9" stroke-dasharray="1.3 0.9" fill="none"/></svg>
<span class="t" style="left:136.70px;top:256.99px;font-size:10.40px;line-height:11.95px;letter-spacing:-0.123px;color:#1a1a1a;">13ch, 100%</span>
<svg class="a" style="left:522.6px;top:254.7px" width="22" height="23" viewBox="0 0 22 23"><defs><linearGradient id="ag522" x1="0" y1="0" x2="1" y2="0"><stop offset="0" stop-color="#fdfdfd"/><stop offset="0.14" stop-color="#ececec"/><stop offset="0.86" stop-color="#ececec"/><stop offset="1" stop-color="#fdfdfd"/></linearGradient></defs><rect x="0.7" y="0.7" width="20.4" height="21.4" rx="2.6" fill="url(#ag522)" stroke="#747474" stroke-width="1.3"/><g fill="none" stroke="#4a78c4" stroke-width="1.15"><path d="M5.6 9.4Q10.9 4.6 16.2 9.4"/><path d="M7 11.1Q10.9 7.6 14.8 11.1"/><path d="M8.4 12.7Q10.9 10.6 13.4 12.7"/></g><path d="M9.5 13.7H12.3L10.9 15.6Z" fill="#4a78c4"/><path d="M5.6 19H16.4" stroke="#9a9a9a" stroke-width="0.9" stroke-dasharray="1.3 0.9" fill="none"/></svg>
<span class="t" style="left:507.00px;top:278.89px;font-size:10.40px;line-height:11.95px;letter-spacing:-0.123px;color:#1a1a1a;">13ch, 100%</span>
<div id="hdr"></div>
<span class="t" style="left:23.30px;top:21.52px;font-size:17.00px;line-height:19.53px;letter-spacing:-1.022px;color:#484848;">6F Map</span>
<div class="btn lb" style="left:592.2px;width:70.6px;"></div>
<div class="btn lb" style="left:673px;width:116px;"></div>
<div class="btn dk" style="left:810px;width:97.8px;"></div>
<div class="btn dk" style="left:930px;width:158px;"></div>
<span class="t" style="left:605.10px;top:17.80px;font-size:12.60px;line-height:14.48px;letter-spacing:-0.465px;color:#fff;-webkit-text-stroke:0.25px #fff;">Unselect</span>
<span class="t" style="left:686.40px;top:17.80px;font-size:12.60px;line-height:14.48px;letter-spacing:-0.236px;color:#fff;-webkit-text-stroke:0.25px #fff;">Delete from Map</span>
<span class="t" style="left:839.00px;top:17.90px;font-size:12.60px;line-height:14.48px;letter-spacing:-0.547px;color:#fff;-webkit-text-stroke:0.25px #fff;">Radio 1</span>
<span class="t" style="left:968.60px;top:17.90px;font-size:12.60px;line-height:14.48px;letter-spacing:-0.233px;color:#fff;-webkit-text-stroke:0.25px #fff;">Add AP to Map</span>
<span class="t" style="left:894.20px;top:19.19px;font-size:11.50px;line-height:13.21px;letter-spacing:0.000px;color:#fff;font-family:'DejaVu Sans',sans-serif;">▼</span>
<span class="t" style="left:1074.80px;top:19.19px;font-size:11.50px;line-height:13.21px;letter-spacing:0.000px;color:#fff;font-family:'DejaVu Sans',sans-serif;">▼</span>
<div id="legend"></div>
<div class="a" style="left:689.1px;top:92.1px;width:15px;height:14.9px;background:#ec4a6c"></div>
<div class="a" style="left:689.1px;top:108.1px;width:15px;height:14.9px;background:#ee8468"></div>
<div class="a" style="left:689.1px;top:124.1px;width:15px;height:14.9px;background:#f1a04e"></div>
<div class="a" style="left:689.1px;top:140.1px;width:15px;height:14.9px;background:#fde24c"></div>
<div class="a" style="left:689.1px;top:156.1px;width:15px;height:14.9px;background:#cadd48"></div>
<div class="a" style="left:689.1px;top:172.1px;width:15px;height:14.9px;background:#7ac898"></div>
<div class="a" style="left:689.1px;top:188.1px;width:15px;height:14.9px;background:#4dbeb4"></div>
<div class="a" style="left:689.1px;top:204.1px;width:15px;height:14.9px;background:#4cb0e2"></div>
<div class="a" style="left:689.1px;top:220.1px;width:15px;height:14.9px;background:#9678b8"></div>
<div class="a" style="left:689.1px;top:236.1px;width:15px;height:14.9px;background:#ac7cb8"></div>
<span class="t" style="left:707.60px;top:77.09px;font-size:13.60px;line-height:15.63px;letter-spacing:-0.024px;color:#000;">[dBm]</span>
<span class="t" style="left:708.30px;top:97.93px;font-size:14.00px;line-height:16.09px;letter-spacing:-0.278px;color:#000;">-30</span>
<span class="t" style="left:708.30px;top:113.93px;font-size:14.00px;line-height:16.09px;letter-spacing:-0.278px;color:#000;">-35</span>
<span class="t" style="left:708.30px;top:129.93px;font-size:14.00px;line-height:16.09px;letter-spacing:-0.278px;color:#000;">-40</span>
<span class="t" style="left:708.30px;top:145.93px;font-size:14.00px;line-height:16.09px;letter-spacing:-0.278px;color:#000;">-45</span>
<span class="t" style="left:708.30px;top:161.93px;font-size:14.00px;line-height:16.09px;letter-spacing:-0.278px;color:#000;">-50</span>
<span class="t" style="left:708.30px;top:177.93px;font-size:14.00px;line-height:16.09px;letter-spacing:-0.278px;color:#000;">-55</span>
<span class="t" style="left:708.30px;top:193.93px;font-size:14.00px;line-height:16.09px;letter-spacing:-0.278px;color:#000;">-60</span>
<span class="t" style="left:708.30px;top:209.93px;font-size:14.00px;line-height:16.09px;letter-spacing:-0.278px;color:#000;">-65</span>
<span class="t" style="left:708.30px;top:225.93px;font-size:14.00px;line-height:16.09px;letter-spacing:-0.278px;color:#000;">-75</span>
<div id="panel"></div>
<div class="a" style="left:790.1px;top:87.2px;width:27.8px;height:19.6px;background:#b2b2b2;border-radius:3px"></div>
<span class="t" style="left:794.50px;top:91.95px;font-size:10.00px;line-height:11.49px;letter-spacing:-0.515px;color:#fff;font-weight:bold;">2 AP</span>
<svg class="a" style="left:780px;top:125px" width="18" height="18" viewBox="0 0 18 18"><circle cx="7.6" cy="7.6" r="4.7" fill="none" stroke="#5b9bd5" stroke-width="1.7"/><path d="M11 11L15.3 15.3" stroke="#5b9bd5" stroke-width="2.2" stroke-linecap="round"/></svg>
<span class="t" style="left:804.30px;top:127.64px;font-size:11.00px;line-height:12.64px;letter-spacing:-0.468px;color:#707070;">Search APs</span>
<div class="a" style="left:780px;top:149.1px;width:298px;height:1.6px;background:#86a8c9"></div>
<svg class="a" style="left:770px;top:180px" width="319" height="16" viewBox="0 0 319 16"><path d="M0 6.4H152.6L159 13.2L165.4 6.4H319" fill="none" stroke="#d3d8dc" stroke-width="1"/></svg>
<span class="t" style="left:780.30px;top:197.74px;font-size:12.00px;line-height:13.79px;letter-spacing:0.020px;color:#333;text-decoration:underline;white-space:pre;">Management </span>
<span class="t" style="left:853.50px;top:197.74px;font-size:12.00px;line-height:13.79px;letter-spacing:-1.404px;color:#333;text-decoration:underline;">S</span>
<span class="t" style="left:861.20px;top:197.74px;font-size:12.00px;line-height:13.79px;letter-spacing:-0.600px;color:#333;">...</span>
<svg class="a" style="left:873.5px;top:198px" width="9" height="11" viewBox="0 0 9 11"><path d="M1 8.6L4.4 2.6L7.8 8.6" fill="none" stroke="#333" stroke-width="1.1"/></svg>
<span class="t" style="left:886.10px;top:197.74px;font-size:12.00px;line-height:13.79px;letter-spacing:-0.211px;color:#333;text-decoration:underline;">Device Name</span>
<span class="t" style="left:977.20px;top:197.74px;font-size:12.00px;line-height:13.79px;letter-spacing:-0.242px;color:#333;text-decoration:underline;">IP Address</span>
<div class="a" style="left:770px;top:217.7px;width:318.3px;height:1px;background:#d3d8dc"></div>
<div class="a" style="left:1071.1px;top:218.5px;width:17.2px;height:452.5px;background:#f1f1f1"></div>
<svg class="a" style="left:1075px;top:225px" width="10" height="7" viewBox="0 0 10 7"><path d="M0.8 5.4L4.6 1.2L8.4 5.4Z" fill="#a3a3a3"/></svg>
<svg class="a" style="left:1075px;top:657.5px" width="10" height="7" viewBox="0 0 10 7"><path d="M0.8 1.4L4.6 5.6L8.4 1.4Z" fill="#a3a3a3"/></svg>
<svg class="a" style="left:780.6px;top:231.4px" width="13" height="10" viewBox="0 0 13 10"><path d="M1.2 4.9L4.7 8.4L11.6 1.6" fill="none" stroke="#2aa433" stroke-width="2.9"/></svg>
<span class="t" style="left:798.60px;top:230.74px;font-size:12.00px;line-height:13.79px;letter-spacing:-0.106px;color:#8b909b;">Managed</span>
<span class="t" style="left:874.20px;top:229.14px;font-size:12.00px;line-height:13.79px;letter-spacing:-0.312px;color:#8b909b;">TQ4600-6F-2</span>
<span class="t" style="left:977.70px;top:229.14px;font-size:12.00px;line-height:13.79px;letter-spacing:-0.434px;color:#8b909b;">192.168.1.200</span>
<div class="a" style="left:770px;top:251.1px;width:301px;height:1px;background:#dfe3e8"></div>
<svg class="a" style="left:780.6px;top:264.4px" width="13" height="10" viewBox="0 0 13 10"><path d="M1.2 4.9L4.7 8.4L11.6 1.6" fill="none" stroke="#2aa433" stroke-width="2.9"/></svg>
<span class="t" style="left:798.60px;top:263.74px;font-size:12.00px;line-height:13.79px;letter-spacing:-0.106px;color:#8b909b;">Managed</span>
<span class="t" style="left:874.20px;top:262.14px;font-size:12.00px;line-height:13.79px;letter-spacing:-0.312px;color:#8b909b;">TQ4600-6F-3</span>
<span class="t" style="left:977.70px;top:262.14px;font-size:12.00px;line-height:13.79px;letter-spacing:-0.503px;color:#8b909b;">192.168.1.201</span>
<div class="a" style="left:770px;top:284.1px;width:301px;height:1px;background:#dfe3e8"></div>
<div id="tool"></div>
<span class="t" style="left:20.30px;top:610.46px;font-size:13.30px;line-height:15.28px;letter-spacing:-0.157px;color:#111;">Drawing Mode:</span>
<div class="a" style="left:112.2px;top:601.2px;width:119.8px;height:29.6px;border:1px solid #a9a9a9;border-radius:1.5px;background:#fff"></div>
<span class="t" style="left:122.50px;top:610.46px;font-size:13.30px;line-height:15.28px;letter-spacing:-0.500px;color:#111;">Power</span>
<svg class="a" style="left:218.5px;top:611.5px" width="8" height="9" viewBox="0 0 8 9"><path d="M0.8 1.2H6.6L3.7 7.6Z" fill="#111"/></svg>
<svg class="a" style="left:248.0px;top:609.6px" width="12" height="12" viewBox="0 0 12 12"><defs><linearGradient id="cg248609" x1="0" y1="0" x2="0.7" y2="1"><stop offset="0" stop-color="#dcdcdc"/><stop offset="1" stop-color="#ffffff"/></linearGradient></defs><rect x="0.5" y="0.5" width="11" height="11" rx="1.5" fill="url(#cg248609)" stroke="#8e8e8e"/><path d="M2.6 6.2L5 8.9L9.6 2.8" fill="none" stroke="#3a3a3a" stroke-width="2"/></svg>
<span class="t" style="left:265.30px;top:610.46px;font-size:13.30px;line-height:15.28px;letter-spacing:-0.507px;color:#111;">Grid</span>
<svg class="a" style="left:305.3px;top:609.6px" width="12" height="12" viewBox="0 0 12 12"><defs><linearGradient id="cg305609" x1="0" y1="0" x2="0.7" y2="1"><stop offset="0" stop-color="#dcdcdc"/><stop offset="1" stop-color="#ffffff"/></linearGradient></defs><rect x="0.5" y="0.5" width="11" height="11" rx="1.5" fill="url(#cg305609)" stroke="#8e8e8e"/><path d="M2.6 6.2L5 8.9L9.6 2.8" fill="none" stroke="#3a3a3a" stroke-width="2"/></svg>
<span class="t" style="left:322.60px;top:610.46px;font-size:13.30px;line-height:15.28px;letter-spacing:-0.564px;color:#111;">Legend</span>
<svg class="a" style="left:380.2px;top:609.6px" width="12" height="12" viewBox="0 0 12 12"><defs><linearGradient id="cg380609" x1="0" y1="0" x2="0.7" y2="1"><stop offset="0" stop-color="#dcdcdc"/><stop offset="1" stop-color="#ffffff"/></linearGradient></defs><rect x="0.5" y="0.5" width="11" height="11" rx="1.5" fill="url(#cg380609)" stroke="#8e8e8e"/><path d="M2.6 6.2L5 8.9L9.6 2.8" fill="none" stroke="#3a3a3a" stroke-width="2"/></svg>
<span class="t" style="left:397.80px;top:610.46px;font-size:13.30px;line-height:15.28px;letter-spacing:-0.393px;color:#111;">Details</span>
<svg class="a" style="left:452.8px;top:609.6px" width="12" height="12" viewBox="0 0 12 12"><defs><linearGradient id="cg452609" x1="0" y1="0" x2="0.7" y2="1"><stop offset="0" stop-color="#dcdcdc"/><stop offset="1" stop-color="#ffffff"/></linearGradient></defs><rect x="0.5" y="0.5" width="11" height="11" rx="1.5" fill="url(#cg452609)" stroke="#c4c4c4"/><path d="M2.6 6.2L5 8.9L9.6 2.8" fill="none" stroke="#b0b0b0" stroke-width="2"/></svg>
<span class="t" style="left:469.00px;top:610.46px;font-size:13.30px;line-height:15.28px;letter-spacing:-0.321px;color:#a8a8a8;">Healthiness Icon</span>
<svg class="a" style="left:578.7px;top:609.6px" width="12" height="12" viewBox="0 0 12 12"><defs><linearGradient id="cg578609" x1="0" y1="0" x2="0.7" y2="1"><stop offset="0" stop-color="#dcdcdc"/><stop offset="1" stop-color="#ffffff"/></linearGradient></defs><rect x="0.5" y="0.5" width="11" height="11" rx="1.5" fill="url(#cg578609)" stroke="#8e8e8e"/></svg>
<span class="t" style="left:596.00px;top:610.46px;font-size:13.30px;line-height:15.28px;letter-spacing:-0.316px;color:#111;">Floor Area</span>
<svg class="a" style="left:670.4px;top:609.6px" width="12" height="12" viewBox="0 0 12 12"><defs><linearGradient id="cg670609" x1="0" y1="0" x2="0.7" y2="1"><stop offset="0" stop-color="#dcdcdc"/><stop offset="1" stop-color="#ffffff"/></linearGradient></defs><rect x="0.5" y="0.5" width="11" height="11" rx="1.5" fill="url(#cg670609)" stroke="#8e8e8e"/></svg>
<span class="t" style="left:687.60px;top:610.46px;font-size:13.30px;line-height:15.28px;letter-spacing:-0.305px;color:#111;">Device Counter</span>
<span class="t" style="left:20.30px;top:650.06px;font-size:13.30px;line-height:15.28px;letter-spacing:-0.252px;color:#111;">Power Limit: -75 dBm</span>
<svg class="a" style="left:147.6px;top:650.1px" width="119.2" height="18" viewBox="0 0 119.2 18"><path d="M0 9H119.2M3.2 4V14M116.0 4V14" stroke="#50505e" stroke-width="1.3" fill="none"/><path d="M0 9H119.2" stroke="#50505e" stroke-width="2" fill="none"/><rect x="23.6" y="1.7" width="7.2" height="15" rx="3" fill="#fff" stroke="#50505e" stroke-width="1.1"/></svg>
<span class="t" style="left:283.00px;top:650.06px;font-size:13.30px;line-height:15.28px;letter-spacing:-0.295px;color:#111;">Background Opacity: 30 %</span>
<svg class="a" style="left:438.6px;top:650.1px" width="119.0" height="18" viewBox="0 0 119.0 18"><path d="M0 9H119.0M3.2 4V14M115.8 4V14" stroke="#50505e" stroke-width="1.3" fill="none"/><path d="M0 9H119.0" stroke="#50505e" stroke-width="2" fill="none"/><rect x="34.1" y="1.7" width="7.2" height="15" rx="3" fill="#fff" stroke="#50505e" stroke-width="1.1"/></svg>
</body>
</html>
